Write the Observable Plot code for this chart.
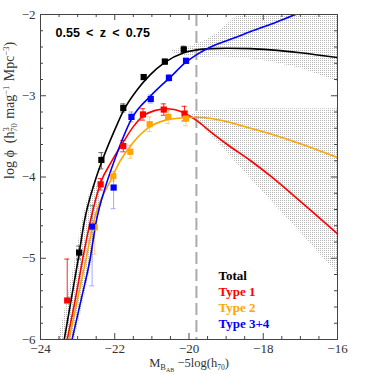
<!DOCTYPE html>
<html><head><meta charset="utf-8">
<script src="https://cdn.jsdelivr.net/npm/d3@7"></script>
<script src="https://cdn.jsdelivr.net/npm/@observablehq/plot@0.6"></script>
<style>body{margin:0;background:#fff}</style>
</head><body>
<svg width="0" height="0" style="position:absolute">
<defs><pattern id="dots" width="2" height="2" patternUnits="userSpaceOnUse"><rect width="1" height="1" fill="#b4b4b4"/></pattern></defs>
</svg>
<div id="chart"></div>
<script>
// ---- axis ticks ----
const xMajor = [-24, -22, -20, -18, -16];
const xMinor = [-23.5, -23, -22.5, -21.5, -21, -20.5, -19.5, -19, -18.5, -17.5, -17, -16.5];
const yMajor = [-6, -5, -4, -3, -2];
const yMinor = [-5.8, -5.6, -5.4, -5.2, -4.8, -4.6, -4.4, -4.2, -3.8, -3.6, -3.4, -3.2, -2.8, -2.6, -2.4, -2.2];
const magLimit = [-19.8];
const titleText = "0.55\u2002<\u2002z\u2002<\u20020.75";
const xLabelText = "MBAB −5log(h70)";
const yLabelText = "log ϕ (h370 mag−1 Mpc−3)";

// ---- series names / colours ----
const seriesNames = ["Total", "Type 1", "Type 2", "Type 3+4"];
const seriesColors = ["#000000", "#ff0000", "#ffa500", "#0000ff"];

// ---- measured points ----
const totalM   = [-22.96, -22.36, -21.77, -21.22, -20.65, -20.14];
const totalPhi = [-4.93, -3.79, -3.15, -2.77, -2.58, -2.43];
const totalLo  = [-5.01, -3.90, -3.20, -2.80, -2.61, -2.47];
const totalHi  = [-4.85, -3.70, -3.10, -2.74, -2.55, -2.39];

const t1M   = [-23.28, -22.38, -21.77, -21.24, -20.68, -20.12];
const t1Phi = [-5.52, -4.09, -3.62, -3.23, -3.17, -3.22];
const t1Lo  = [-5.52, -4.16, -3.69, -3.30, -3.24, -3.31];
const t1Hi  = [-5.01, -4.02, -3.55, -3.16, -3.10, -3.13];

const t2M   = [-22.54, -22.04, -21.58, -21.06, -20.56, -20.08];
const t2Phi = [-4.62, -3.99, -3.69, -3.35, -3.26, -3.28];
const t2Lo  = [-4.95, -4.05, -3.77, -3.44, -3.34, -3.37];
const t2Hi  = [-4.50, -3.93, -3.61, -3.26, -3.18, -3.19];

const t34M   = [-22.61, -22.03, -21.55, -21.03, -20.54, -20.08];
const t34Phi = [-4.61, -4.13, -3.26, -3.04, -2.78, -2.57];
const t34Lo  = [-5.34, -4.39, -3.32, -3.09, -2.82, -2.60];
const t34Hi  = [-4.35, -4.00, -3.20, -2.99, -2.74, -2.54];

// ---- fitted curves ----
const totalCurveM   = [-23.36, -23.17, -22.98, -22.82, -22.53, -22.34, -22.0, -21.76, -21.4, -21.04, -20.65, -20.14, -19.78, -19.4, -18.97, -18.34, -17.8, -17.0, -16.0];
const totalCurvePhi = [-6.0, -5.5, -5.0, -4.55, -4.05, -3.8, -3.42, -3.18, -2.93, -2.74, -2.59, -2.47, -2.435, -2.42, -2.415, -2.42, -2.435, -2.47, -2.53];

const t1CurveM   = [-23.28, -23.06, -22.86, -22.66, -22.38, -22.1, -21.77, -21.5, -21.24, -20.9, -20.63, -20.4, -20.14, -19.78, -19.4, -18.97, -18.34, -17.8, -17.0, -16.0];
const t1CurvePhi = [-6.0, -5.5, -5.0, -4.55, -4.07, -3.82, -3.57, -3.38, -3.25, -3.18, -3.16, -3.17, -3.21, -3.31, -3.45, -3.6, -3.8, -3.99, -4.3, -4.7];

const t2CurveM   = [-23.23, -23.0, -22.77, -22.57, -22.11, -21.85, -21.53, -21.08, -20.63, -20.14, -19.78, -19.4, -18.97, -18.34, -17.8, -17.0, -16.0];
const t2CurvePhi = [-6.0, -5.5, -5.0, -4.55, -4.04, -3.8, -3.59, -3.39, -3.30, -3.27, -3.265, -3.28, -3.32, -3.40, -3.47, -3.59, -3.76];

const t34CurveM   = [-23.15, -22.9, -22.66, -22.5, -22.25, -21.98, -21.53, -21.03, -20.5, -20.09, -19.78, -19.42, -18.79, -18.34, -17.8, -17.13, -16.6];
const t34CurvePhi = [-6.0, -5.5, -5.0, -4.55, -4.12, -3.76, -3.27, -3.0, -2.77, -2.59, -2.49, -2.40, -2.29, -2.21, -2.12, -2.0, -1.91];

// ---- uncertainty bands ----
const upperBandM  = [-20.45, -20.0, -19.6, -19.2, -18.8, -18.6, -17.8, -17.0, -16.0];
const upperBandLo = [-2.47, -2.52, -2.53, -2.52, -2.53, -2.53, -2.58, -2.66, -2.82];
const upperBandHi = [-2.44, -2.40, -2.33, -2.22, -2.05, -2.0, -2.0, -2.0, -2.0];

const lowerBandM  = [-19.95, -19.7, -19.2, -18.34, -17.0, -16.0];
const lowerBandLo = [-3.27, -3.35, -3.58, -4.02, -4.68, -5.19];
const lowerBandHi = [-3.24, -3.18, -3.17, -3.16, -3.16, -3.16];

const brightBandPhi = [-6.0, -5.5, -5.0, -4.6, -4.3, -4.1];
const brightBandM1  = [-23.52, -23.27, -23.06, -22.9, -22.75, -22.6];
const brightBandM2  = [-23.08, -22.83, -22.6, -22.47, -22.38, -22.4];

// ---- layout ----
const W = 374, H = 374, mL = 40, mR = 37, mT = 14, mB = 35;
const xDomain = [-24, -16], yDomain = [-6, -2];
const pxX = (xDomain[1] - xDomain[0]) / (W - mL - mR);   // data units per pixel
const pxY = (yDomain[1] - yDomain[0]) / (H - mT - mB);

// ---- build tables ----
const zipPts = (M, P, L, Hh) => M.map((m, i) => ({M: m, phi: P[i], lo: L[i], hi: Hh[i]}));
const zipCurve = (M, P) => M.map((m, i) => ({M: m, phi: P[i]}));
const series = [
  {pts: zipPts(totalM, totalPhi, totalLo, totalHi), curve: zipCurve(totalCurveM, totalCurvePhi), errColor: "#555", errOpacity: 0.9},
  {pts: zipPts(t1M, t1Phi, t1Lo, t1Hi), curve: zipCurve(t1CurveM, t1CurvePhi), errColor: seriesColors[1], errOpacity: 0.85},
  {pts: zipPts(t2M, t2Phi, t2Lo, t2Hi), curve: zipCurve(t2CurveM, t2CurvePhi), errColor: seriesColors[2], errOpacity: 0.55},
  {pts: zipPts(t34M, t34Phi, t34Lo, t34Hi), curve: zipCurve(t34CurveM, t34CurvePhi), errColor: seriesColors[3], errOpacity: 0.35}
];
const upperBand = upperBandM.map((m, i) => ({M: m, lo: upperBandLo[i], hi: upperBandHi[i]}));
const lowerBand = lowerBandM.map((m, i) => ({M: m, lo: lowerBandLo[i], hi: lowerBandHi[i]}));
const brightBand = brightBandPhi.map((p, i) => ({phi: p, m1: brightBandM1[i], m2: brightBandM2[i]}));

const axisColor = "#444";
const tickMarks = [];
for (const [vals, len] of [[xMajor, 6], [xMinor, 3]]) {
  tickMarks.push(Plot.ruleX(vals, {x: d => d, y1: yDomain[0], y2: yDomain[0] + len * pxY, stroke: axisColor}));
  tickMarks.push(Plot.ruleX(vals, {x: d => d, y1: yDomain[1], y2: yDomain[1] - len * pxY, stroke: axisColor}));
}
for (const [vals, len] of [[yMajor, 6], [yMinor, 3]]) {
  tickMarks.push(Plot.ruleY(vals, {y: d => d, x1: xDomain[0], x2: xDomain[0] + len * pxX, stroke: axisColor}));
  tickMarks.push(Plot.ruleY(vals, {y: d => d, x1: xDomain[1], x2: xDomain[1] - len * pxX, stroke: axisColor}));
}

const capHalf = 2.5 * pxX;
const errMarks = [], curveMarks = [], dotMarks = [];
series.forEach((s, k) => {
  const st = {stroke: s.errColor, strokeOpacity: s.errOpacity, strokeWidth: 1};
  errMarks.push(Plot.ruleX(s.pts, {x: "M", y1: "lo", y2: "hi", ...st}));
  errMarks.push(Plot.ruleY(s.pts, {y: "lo", x1: d => d.M - capHalf, x2: d => d.M + capHalf, ...st}));
  errMarks.push(Plot.ruleY(s.pts, {y: "hi", x1: d => d.M - capHalf, x2: d => d.M + capHalf, ...st}));
  curveMarks.push(Plot.line(s.curve, {x: "M", y: "phi", stroke: seriesColors[k], strokeWidth: 1.6, curve: "monotone-x", clip: true}));
  dotMarks.push(Plot.dot(s.pts, {x: "M", y: "phi", symbol: "square", r: 3.5, fill: seriesColors[k], stroke: "none"}));
});

const legendMarks = seriesNames.map((name, k) => Plot.text([name], {
  text: d => d, frameAnchor: "bottom-left", dx: 178, dy: -64 + 16 * k, textAnchor: "start", lineAnchor: "middle",
  fill: seriesColors[k], fontFamily: "Liberation Serif", fontWeight: "bold", fontSize: 13
}));

const fmt = d => (d < 0 ? "\u2212" + (-d) : String(d));

const chart = Plot.plot({
  width: W, height: H,
  marginLeft: mL, marginRight: mR, marginTop: mT, marginBottom: mB,
  style: {fontFamily: "Liberation Serif", fontSize: "13px", background: "#fff", color: "#333"},
  x: {domain: xDomain},
  y: {domain: yDomain},
  marks: [
    Plot.areaY(upperBand, {x: "M", y1: "lo", y2: "hi", fill: "url(#dots)"}),
    Plot.areaY(lowerBand, {x: "M", y1: "lo", y2: "hi", fill: "url(#dots)"}),
    Plot.areaX(brightBand, {y: "phi", x1: "m1", x2: "m2", fill: "url(#dots)"}),
    Plot.ruleX(magLimit, {stroke: "#aaa", strokeWidth: 2, strokeDasharray: "12,5"}),
    ...errMarks,
    ...curveMarks,
    ...dotMarks,
    Plot.frame({stroke: axisColor, strokeWidth: 1}),
    ...tickMarks,
    Plot.axisX(xMajor, {tickSize: 0, tickPadding: 4, label: null, fill: "#333", tickFormat: fmt}),
    Plot.axisY(yMajor, {tickSize: 0, tickPadding: 5, label: null, fill: "#333", tickFormat: fmt}),
    Plot.text([titleText], {text: d => d, frameAnchor: "top-left", dx: 15, dy: 13.5, lineAnchor: "top", textAnchor: "start",
      fontFamily: "Liberation Sans", fontWeight: "bold", fontSize: 12.5, fill: "#000"}),
    ...legendMarks,
    Plot.text([xLabelText], {text: d => d, frameAnchor: "bottom", dy: 23, lineAnchor: "middle", fill: "#333"}),
    Plot.text([yLabelText], {text: d => d, frameAnchor: "left", dx: -31, dy: 2, rotate: -90, lineAnchor: "middle", fill: "#333"})
  ]
});
document.getElementById("chart").appendChild(chart);

// sub/superscripts for axis titles: [text, baseline offset (px, + = down), font size, dx]
const xLabelParts = [["M", 0, 12.5, 0], ["B", 3, 8.5, 0], ["AB", 5, 6, 0], [" −5log(h", 0, 12.5, 0], ["70", 3, 7.5, 0], [")", 0, 12.5, 0]];
const yLabelParts = [["log ϕ  (h", 0, 14, 0], ["3", -5, 8.5, 0], ["70", 3, 8.5, -4.5], [" mag", 0, 14, 1], ["−1", -5, 8.5, 0], [" Mpc", 0, 14, 1], ["−3", -5, 8.5, 0], [")", 0, 14, 0]];
function rich(label, parts) {
  for (const t of chart.querySelectorAll("text")) {
    if (t.textContent !== label) continue;
    t.setAttribute("xml:space", "preserve");
    t.style.whiteSpace = "pre";
    while (t.firstChild) t.removeChild(t.firstChild);
    let prev = 0;
    for (const [s, off, size, dx] of parts) {
      const ts = document.createElementNS("http://www.w3.org/2000/svg", "tspan");
      ts.setAttribute("dy", off - prev);
      if (dx) ts.setAttribute("dx", dx);
      ts.setAttribute("font-size", size);
      ts.textContent = s;
      t.appendChild(ts);
      prev = off;
    }
  }
}
rich(xLabelText, xLabelParts);
rich(yLabelText, yLabelParts);
</script>
</body></html>
